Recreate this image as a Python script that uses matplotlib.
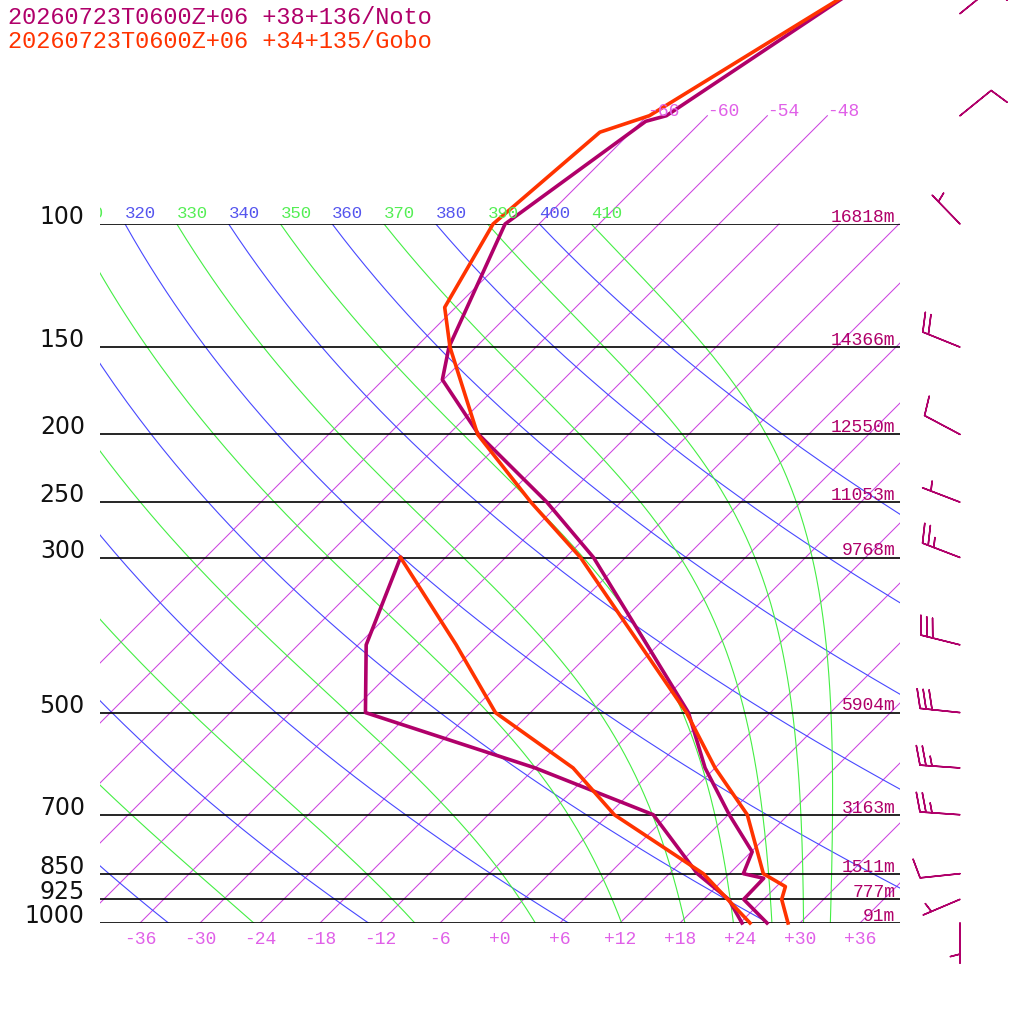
import numpy as np
import matplotlib
matplotlib.use("Agg")
import matplotlib.pyplot as plt
from matplotlib.patches import Rectangle
from matplotlib.transforms import Bbox, TransformedBbox, offset_copy

# --- sounding: Noto (hPa, degC) ---
NOTO_T_P = [1000, 925, 863, 850, 791, 700, 600, 500, 300, 250, 200, 167, 150, 100, 71.3, 70, 50, 40]
NOTO_T = [26.7, 22.0, 21.9, 19.4, 18.1, 12.1, 5.0, -2.2, -27.2, -37.4, -51.0, -60.1, -62.7, -69.4, -65.6, -64.1, -59.0, -55.6]
NOTO_TD_P = [1000, 925, 850, 700, 600, 500, 400, 300]
NOTO_TD = [24.2, 20.5, 14.8, 4.5, -12.0, -34.5, -41.2, -46.5]

# --- sounding: Gobo ---
GOBO_T_P = [1000, 925, 887, 850, 700, 600, 500, 300, 250, 200, 150, 131.6, 100, 73.9, 70, 50, 40]
GOBO_T = [28.8, 25.8, 24.9, 21.4, 13.9, 6.0, -2.4, -28.5, -39.0, -51.1, -62.6, -67.1, -70.6, -69.1, -65.8, -59.4, -55.1]
GOBO_TD_P = [1000, 925, 850, 700, 600, 500, 400, 300]
GOBO_TD = [25.0, 20.4, 15.4, 0.6, -8.2, -21.5, -32.2, -46.5]

# --- Noto winds (direction from, knots) ---
WIND_P = [1000, 925, 850, 700, 600, 500, 400, 300, 250, 200, 150, 100, 70, 50]
WIND_DIR = [180, 247, 264, 274, 274, 276, 284, 291, 291, 298, 292, 316, 51, 51]
WIND_KT = [5, 5, 10, 25, 25, 30, 30, 25, 5, 10, 20, 5, 10, 10]

# --- mandatory levels and heights ---
LEVELS = [100, 150, 200, 250, 300, 500, 700, 850, 925, 1000]
HEIGHTS = [16818, 14366, 12550, 11053, 9768, 5904, 3163, 1511, 777, 91]

ISOTHERMS = list(range(-66, 37, 6))
DRY_THETA = list(range(240, 401, 20))
MOIST_THETA = list(range(250, 411, 20))

TITLE_NOTO = "20260723T0600Z+06 +38+136/Noto"
TITLE_GOBO = "20260723T0600Z+06 +34+135/Gobo"

C_NOTO = "#B0006A"
C_GOBO = "#FF3300"
C_ISO = "#CC44E0"
C_ISO_LBL = "#E060E8"
C_DRY = "#4848FF"
C_MOIST = "#44EE44"
MONO = "Liberation Mono"

SKEW = 30.36      # gives 45 degree isotherms for this box
KAPPA = 0.2857


def skew_x(t, p):
    return np.asarray(t, float) + SKEW * np.log(1000.0 / np.asarray(p, float))


def moist_adiabat(theta, p):
    """pseudo-adiabat started at 100 hPa, integrated downward (RK4)"""
    Rd, cp, Lv, eps = 287.04, 1005.7, 2.501e6, 0.622

    def dtdp(T, pp):
        es = 6.112 * np.exp(17.67 * (T - 273.15) / (T - 29.65))
        rs = eps * es / (pp - es)
        return (Rd * T + Lv * rs) / (pp * (cp + Lv * Lv * rs * eps / (Rd * T * T)))

    T = theta * (p[0] / 1000.0) ** KAPPA
    out = [T]
    for i in range(len(p) - 1):
        h = p[i + 1] - p[i]
        k1 = dtdp(T, p[i])
        k2 = dtdp(T + h / 2 * k1, p[i] + h / 2)
        k3 = dtdp(T + h / 2 * k2, p[i] + h / 2)
        k4 = dtdp(T + h * k3, p[i] + h)
        T = T + h / 6 * (k1 + 2 * k2 + 2 * k3 + k4)
        out.append(T)
    return np.array(out) - 273.15


fig = plt.figure(figsize=(10.24, 10.24), dpi=100)
ax = fig.add_axes([100 / 1024, 101 / 1024, 800 / 1024, 699 / 1024])
ax.set_yscale("log")
ax.set_ylim(1000, 100)
ax.set_xlim(-40, 40)
for s in ax.spines.values():
    s.set_visible(False)
ax.yaxis.set_major_locator(plt.NullLocator())
ax.yaxis.set_minor_locator(plt.NullLocator())
ax.set_xticks(ISOTHERMS[5:])
ax.set_xticklabels([f"{t:+d}" for t in ISOTHERMS[5:]], family=MONO)
ax.tick_params(axis="x", length=0, pad=6, labelsize=13, labelcolor=C_ISO_LBL)

# clip region that lets lines run above the 100 hPa line
upper_clip = Rectangle((0, 0), 1, 1.6, transform=ax.transAxes)
label_box = TransformedBbox(Bbox([[0, 0], [1, 1.6]]), ax.transAxes)

# isotherms
for t in ISOTHERMS:
    ptop = 70 if t <= -48 else 100
    pp = np.array([1000, ptop])
    ln, = ax.plot(skew_x([t, t], pp), pp, color=C_ISO, lw=0.75)
    ln.set_clip_path(upper_clip)
    if t <= -48:
        ax.text(skew_x(t, 70), 70, f"{t:+d}", color=C_ISO_LBL, fontsize=13,
                family=MONO, ha="left", va="baseline")

pgrid = np.linspace(100, 1000, 181)
lbl_trans = offset_copy(ax.transData, fig=fig, y=4.3, units="points")


def adiabat_label(th, color):
    # label sits where the line meets 100 hPa; those far off the left are skipped
    x0 = skew_x(th * 0.1 ** KAPPA - 273.15, 100)
    if x0 < -43.5:
        return
    txt = ax.text(x0, 100, str(th), color=color, fontsize=12.5, family=MONO,
                  ha="left", va="baseline", transform=lbl_trans)
    txt.set_clip_path(None)
    txt.set_clip_box(label_box)
    txt.set_clip_on(True)


# dry adiabats
for th in DRY_THETA:
    t = th * (pgrid / 1000.0) ** KAPPA - 273.15
    ax.plot(skew_x(t, pgrid), pgrid, color=C_DRY, lw=0.8)
    adiabat_label(th, "#5555EE")

# moist adiabats
for th in MOIST_THETA:
    t = moist_adiabat(th, pgrid)
    ax.plot(skew_x(t, pgrid), pgrid, color=C_MOIST, lw=0.8)
    adiabat_label(th, "#55EE55")

# pressure lines, labels and heights
ax.hlines(LEVELS, -40, 40, colors="black", lw=1.2)
ytrans = ax.get_yaxis_transform()
htrans = offset_copy(ytrans, fig=fig, y=1.5, units="points")
for p, h in zip(LEVELS, HEIGHTS):
    ax.text(-0.019, p, str(p), transform=ytrans, ha="right", va="baseline",
            fontsize=17, family="DejaVu Sans", color="#111111")
    ax.text(0.994, p, f"{h}m", transform=htrans, ha="right", va="baseline",
            fontsize=13, family=MONO, color=C_NOTO)

# soundings
for tp, tv, dp, dv, col in [(NOTO_T_P, NOTO_T, NOTO_TD_P, NOTO_TD, C_NOTO),
                            (GOBO_T_P, GOBO_T, GOBO_TD_P, GOBO_TD, C_GOBO)]:
    ax.plot(skew_x(tv, tp), tp, color=col, lw=2.6, clip_on=False)
    ax.plot(skew_x(dv, dp), dp, color=col, lw=2.6, clip_on=False)

# wind barbs for Noto
wd = np.radians(WIND_DIR)
spd = np.array(WIND_KT, float)
u = -spd * np.sin(wd)
v = -spd * np.cos(wd)
ax.barbs(np.full(len(WIND_P), 46.0), WIND_P, u, v, length=7.6, color=C_NOTO,
         lw=1.1, clip_on=False, sizes=dict(height=0.48, spacing=0.15, width=0.25))

# titles
fig.text(8 / 1024, 1 - 24 / 1024, TITLE_NOTO, color=C_NOTO, fontsize=17, family=MONO)
fig.text(8 / 1024, 1 - 48 / 1024, TITLE_GOBO, color=C_GOBO, fontsize=17, family=MONO)

fig.savefig("out.png", dpi=100)
